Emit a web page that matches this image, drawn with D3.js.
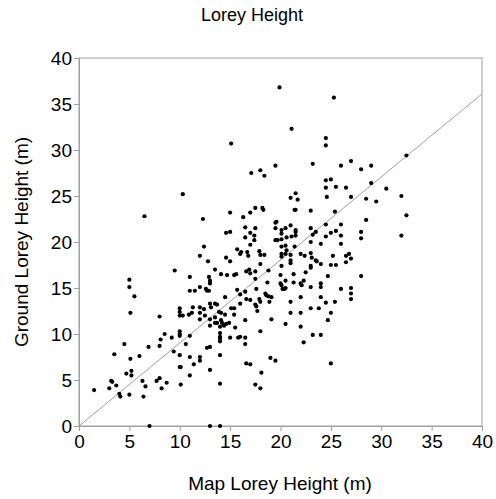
<!DOCTYPE html>
<html><head><meta charset="utf-8">
<script src="https://cdn.jsdelivr.net/npm/d3@7"></script>
<style>html,body{margin:0;padding:0;background:#fff;}svg{display:block;font-family:"Liberation Sans",Arial,sans-serif;}</style>
</head><body><svg id="c" width="496" height="499"></svg>
<script>
const title = "Lorey Height";
const xTitle = "Map Lorey Height (m)";
const yTitle = "Ground Lorey Height (m)";
const tickValues = [0,5,10,15,20,25,30,35,40];
const fitX = [0,40];
const fitY = [0,36.1];
const mapHeight = [
 10.3,
 19.9,21.1,15.1,19.5,18.0,17.1,18.4,21.5,
 25.3,24.5,24.5,23.2,27.0,26.0,28.0,29.0,32.5,24.5,25.0,24.5,25.5,26.5,29.0,30.5,
 6.5,9.5,11.0,5.0,5.0,11.0,11.5,5.5,10.0,11.3,
 21.0,21.7,18.2,18.3,17.5,17.0,15.0,21.4,21.5,12.3,
 16.3,19.6,19.5,16.5,17.5,19.5,20.1,20.5,21.0,21.5,
 21.5,14.6,15.0,17.0,20.1,16.5,17.4,17.4,19.5,19.7,
 20.1,20.6,21.1,21.5,17.0,12.4,20.1,20.5,20.6,21.4,
 15.7,16.0,16.1,16.7,16.8,17.9,18.0,18.4,20.1,20.1,
 20.5,21.0,22.0,22.4,12.0,12.8,14.6,15.0,21.0,21.0,
 20.1,16.9,17.0,18.0,18.8,17.5,16.6,13.5,14.1,14.7,
 15.4,15.6,12.9,13.0,13.0,12.0,17.5,18.7,20.0,21.3,
 22.5,20.0,20.1,20.5,20.5,21.3,22.0,22.1,20.2,20.4,
 22.3,12.6,12.9,12.7,15.7,16.5,17.6,18.5,18.6,18.8,
 19.1,14.5,16.0,16.6,17.0,17.9,21.0,22.0,13.5,13.7,
 13.0,13.1,12.0,17.5,17.6,18.0,18.9,15.1,15.4,16.0,12.4,
 24.6,27.0,28.5,29.5,32.0,23.0,25.4,32.5,28.5,23.0,
 24.5,26.0,23.5,23.2,25.0,25.5,24.5,26.0,28.0,28.0,
 32.0,23.0,24.0,26.0,23.0,23.1,25.2,26.5,26.8,27.0,
 26.5,23.5,23.6,24.0,23.0,23.0,25.0,25.5,24.7,28.0,
 23.0,24.0,24.0,26.0,27.0,27.0,27.0,24.0,24.5,25.4,
 23.0,23.8,
 5.1,8.0,10.0,10.0,10.3,10.9,11.2,8.5,8.1,10.0,
 10.0,10.0,9.2,11.0,4.5,6.9,8.0,10.6,9.4,3.5,
 6.0,5.1,10.0,11.0,10.0,10.1,11.4,4.7,5.2,5.2,
 11.0,3.2,3.3,6.3,7.7,8.0,6.6,8.7,10.1,1.5,
 3.0,3.7,4.0,4.1,5.0,6.4,8.2,7.0,
 12.0,12.0,12.5,13.0,13.5,13.5,13.7,13.9,14.1,14.1,
 14.2,14.5,15.4,17.7,13.0,14.0,14.4,14.6,14.9,16.5,
 15.5,14.0,14.0,14.0,14.0,15.0,15.8,16.0,16.5,16.5,
 18.0,19.1,21.0,22.0,20.5,22.0,22.3,12.7,13.0,12.0,
 12.0,14.0,13.0,16.6,17.0,18.1,19.0,19.5,17.5,18.0,
 14.0,13.0,14.0,
 25.0,24.7,23.2,24.0,25.0
];
const groundHeight = [
 25.2,
 36.8,32.3,30.7,28.3,27.8,27.5,27.2,25.3,
 35.7,31.3,30.5,28.5,28.8,28.3,27.9,28.3,29.4,26.7,26.8,25.9,26.0,25.9,26.4,25.8,
 22.8,16.9,16.2,15.9,15.1,14.7,14.7,14.1,12.8,12.9,
 24.8,24.6,23.7,23.5,23.7,23.2,23.2,23.5,23.5,22.5,
 22.7,22.2,22.1,21.6,21.5,21.5,21.3,21.5,21.8,21.3,
 21.1,21.0,21.1,21.0,20.9,20.5,20.7,20.2,20.2,20.2,
 20.3,20.5,20.6,20.7,19.7,19.5,19.5,19.6,19.1,19.5,
 19.2,18.7,18.9,18.9,18.5,19.0,18.6,18.6,18.7,18.4,
 18.7,18.6,18.7,18.5,18.5,17.9,18.3,17.9,18.0,17.7,
 17.4,17.0,16.6,17.6,16.9,16.8,16.8,17.0,16.5,16.4,
 16.4,16.5,16.2,15.8,15.5,15.1,16.0,15.6,16.4,16.5,
 16.7,15.5,15.3,15.8,15.0,15.6,15.5,15.3,14.9,14.9,
 15.8,14.9,14.7,14.7,14.8,14.6,14.9,14.4,14.2,14.1,
 14.0,14.0,14.3,13.8,13.7,13.8,13.5,14.0,13.3,13.2,
 13.3,12.9,12.9,13.2,13.0,13.5,13.5,12.8,12.8,13.3,12.7,
 24.9,24.9,24.7,24.4,25.0,23.4,23.3,22.9,22.4,21.5,
 21.9,21.9,21.1,20.8,21.0,21.2,20.6,20.7,21.1,20.4,
 20.7,20.0,19.8,19.8,18.8,18.3,18.5,18.5,18.7,18.2,
 17.8,18.0,17.9,17.6,17.4,17.2,17.5,17.5,16.3,16.3,
 15.1,15.5,15.1,14.9,15.0,14.4,13.8,14.0,13.4,13.5,
 12.8,12.8,
 12.3,11.9,12.4,12.0,12.0,12.1,12.3,10.0,9.4,10.3,
 10.0,9.8,9.6,9.8,8.9,8.6,8.7,8.9,8.1,7.8,
 7.6,7.3,7.7,7.5,6.4,6.4,6.7,5.7,6.0,5.5,
 5.5,4.9,4.8,4.9,4.9,5.2,4.3,4.7,4.5,3.9,
 4.1,4.4,3.5,3.2,3.4,3.2,4.1,0,
 12.3,11.6,12.0,11.6,11.8,11.2,11.2,12.4,12.3,11.5,
 11.2,12.1,12.1,12.5,10.9,10.8,10.9,11.1,11.2,11.5,
 10.7,10.1,9.7,9.5,9.2,9.6,9.6,9.7,9.6,8.9,
 10.3,11.6,12.3,12.3,11.1,10.8,9.1,8.5,8.6,7.5,
 7.1,7.7,6.1,6.8,6.7,5.8,7.4,7.1,4.5,4.1,
 4.6,0,0,
 12.3,11.5,9.9,9.9,6.8
];

const svg = d3.select("#c");
const W = 496, H = 499;
svg.append("rect").attr("width", W).attr("height", H).attr("fill", "#fff");
const x = d3.scaleLinear().domain([0,40]).range([79,482]);
const y = d3.scaleLinear().domain([0,40]).range([426,58]);
const grey = "#a0a0a0";

// frame
svg.append("rect").attr("x", x(0)).attr("y", y(40))
  .attr("width", x(40)-x(0)).attr("height", y(0)-y(40))
  .attr("fill", "none").attr("stroke", grey).attr("stroke-width", 1);

const xAxis = svg.append("g").attr("transform", `translate(0,${y(0)})`)
  .call(d3.axisBottom(x).tickValues(tickValues).tickSize(5).tickSizeOuter(0).tickPadding(4).tickFormat(d3.format("d")));
const yAxis = svg.append("g").attr("transform", `translate(${x(0)},0)`)
  .call(d3.axisLeft(y).tickValues(tickValues).tickSize(5).tickSizeOuter(0).tickPadding(2).tickFormat(d3.format("d")));
[xAxis, yAxis].forEach(g => {
  g.select(".domain").attr("stroke", grey);
  g.selectAll(".tick line").attr("stroke", grey);
  g.selectAll(".tick text").attr("fill", "#000").style("font-size", "19px")
    .style("font-family", '"Liberation Sans", Arial, sans-serif');
});

// fit line
svg.append("line").attr("x1", x(fitX[0])).attr("y1", y(fitY[0]))
  .attr("x2", x(fitX[1])).attr("y2", y(fitY[1]))
  .attr("stroke", "#888").attr("stroke-width", 0.8);

// points
const pts = mapHeight.map((v, i) => [v, groundHeight[i]]);
svg.append("g").selectAll("circle").data(pts).join("circle")
  .attr("cx", d => x(d[0])).attr("cy", d => y(d[1])).attr("r", 2.1).attr("fill", "#000");

// titles
svg.append("text").attr("x", 252).attr("y", 21).attr("text-anchor", "middle")
  .style("font-size", "18px").attr("fill", "#000").text(title);
svg.append("text").attr("x", 280).attr("y", 490).attr("text-anchor", "middle")
  .style("font-size", "19px").attr("fill", "#000").text(xTitle);
svg.append("text").attr("transform", `translate(28,${(y(0)+y(40))/2}) rotate(-90)`)
  .attr("text-anchor", "middle").style("font-size", "19px").attr("fill", "#000").text(yTitle);
</script></body></html>
